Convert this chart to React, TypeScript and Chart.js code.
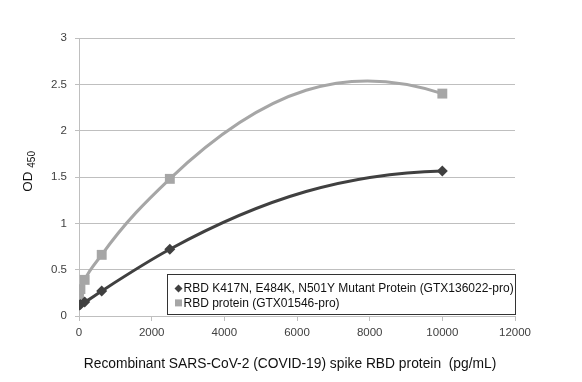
import React, { useEffect, useRef } from 'react';
import { Chart, registerables } from 'chart.js';

Chart.register(...registerables);

// ---- data ----
const concentrations = [0, 39, 156, 625, 2500, 10000];
const mutantOD = [0.115, 0.125, 0.15, 0.27, 0.72, 1.565];
const rbdOD = [0.23, 0.29, 0.39, 0.66, 1.48, 2.4];
const seriesLabels = [
  'RBD K417N, E484K, N501Y Mutant Protein (GTX136022-pro)',
  'RBD protein (GTX01546-pro)',
];
const xTickLabels = ['0', '2000', '4000', '6000', '8000', '10000', '12000'];
const yTickLabels = ['0', '0.5', '1', '1.5', '2', '2.5', '3'];
const xTitle = 'Recombinant SARS-CoV-2 (COVID-19) spike RBD protein  (pg/mL)';
const yTitleMain = 'OD';
const yTitleSub = '450';

const FONT = '"Liberation Sans", Arial, sans-serif';
const HANDLE = 0.35;

// Excel-like smoothing: Hermite spline in x with parabolic (Bessel) tangents
const excelSmooth = {
  id: 'excelSmooth',
  beforeDatasetDraw(chart: any, args: any) {
    const meta = args.meta;
    const line = meta.dataset;
    if (!line) return;
    if (typeof line.updateControlPoints === 'function') {
      line.updateControlPoints(chart.chartArea, meta.iScale ? meta.iScale.axis : 'x');
    }
    const pts = meta.data;
    const n = pts.length;
    if (n < 2) return;
    const h: number[] = [];
    const d: number[] = [];
    for (let i = 0; i < n - 1; i++) {
      h[i] = pts[i + 1].x - pts[i].x;
      d[i] = h[i] !== 0 ? (pts[i + 1].y - pts[i].y) / h[i] : 0;
    }
    const m: number[] = [];
    for (let i = 0; i < n; i++) {
      if (n === 2) {
        m[i] = d[0];
      } else if (i === 0) {
        const s = h[0] + h[1];
        m[i] = s ? ((2 * h[0] + h[1]) * d[0] - h[0] * d[1]) / s : d[0];
      } else if (i === n - 1) {
        const a = h[n - 3];
        const b = h[n - 2];
        const s = a + b;
        m[i] = s ? ((2 * b + a) * d[n - 2] - b * d[n - 3]) / s : d[n - 2];
      } else {
        const s = h[i - 1] + h[i];
        m[i] = s ? (h[i] * d[i - 1] + h[i - 1] * d[i]) / s : 0;
      }
    }
    for (let i = 0; i < n; i++) {
      const p = pts[i];
      if (i > 0) {
        p.cp1x = p.x - h[i - 1] * HANDLE;
        p.cp1y = p.y - m[i] * h[i - 1] * HANDLE;
      } else {
        p.cp1x = p.x;
        p.cp1y = p.y;
      }
      if (i < n - 1) {
        p.cp2x = p.x + h[i] * HANDLE;
        p.cp2y = p.y + m[i] * h[i] * HANDLE;
      } else {
        p.cp2x = p.x;
        p.cp2y = p.y;
      }
    }
    line._pointsUpdated = true;
  },
};

function drawMarker(ctx: CanvasRenderingContext2D, style: string, x: number, y: number, r: number, color: string) {
  ctx.save();
  ctx.fillStyle = color;
  ctx.beginPath();
  if (style === 'rectRot') {
    ctx.moveTo(x, y - r);
    ctx.lineTo(x + r, y);
    ctx.lineTo(x, y + r);
    ctx.lineTo(x - r, y);
    ctx.closePath();
  } else {
    ctx.rect(x - r, y - r, 2 * r, 2 * r);
  }
  ctx.fill();
  ctx.restore();
}

const annotations = {
  id: 'annotations',
  afterDraw(chart: any) {
    const ctx: CanvasRenderingContext2D = chart.ctx;
    const area = chart.chartArea;
    ctx.save();

    // legend box
    const bw = 348;
    const bh = 40;
    const bx = Math.round(area.right - bw) + 0.5;
    const by = Math.round(area.bottom - 2 - bh) + 0.5;
    ctx.fillStyle = '#ffffff';
    ctx.fillRect(bx, by, bw, bh);
    ctx.strokeStyle = '#333333';
    ctx.lineWidth = 1;
    ctx.strokeRect(bx, by, bw, bh);
    ctx.font = `12px ${FONT}`;
    ctx.textBaseline = 'middle';
    ctx.textAlign = 'left';
    const ds = chart.data.datasets;
    for (let i = 0; i < ds.length; i++) {
      const cy = by + 14 + i * 14.4;
      drawMarker(ctx, ds[i].pointStyle, bx + 11, cy, ds[i].pointStyle === 'rectRot' ? 4 : 3.5, ds[i].borderColor);
      ctx.fillStyle = '#111111';
      ctx.fillText(ds[i].label, bx + 16, cy + 0.5);
    }

    // x-axis title
    ctx.fillStyle = '#111111';
    ctx.font = `13.8px ${FONT}`;
    ctx.textAlign = 'center';
    ctx.textBaseline = 'middle';
    ctx.fillText(xTitle, 290, 364);

    // y-axis title with subscript
    ctx.translate(0, 191.7);
    ctx.rotate(-Math.PI / 2);
    ctx.textAlign = 'left';
    ctx.textBaseline = 'alphabetic';
    ctx.font = `13.5px ${FONT}`;
    ctx.fillText(yTitleMain, 0, 31.5);
    const w = ctx.measureText(yTitleMain + ' ').width;
    ctx.font = `10px ${FONT}`;
    ctx.fillText(yTitleSub, w, 35.3);
    ctx.restore();
  },
};

export default function App() {
  const ref = useRef<HTMLCanvasElement | null>(null);

  useEffect(() => {
    document.body.style.margin = '0';
    const canvas = ref.current;
    if (!canvas) return;
    const chart = new Chart(canvas, {
      type: 'line',
      data: {
        datasets: [
          {
            label: seriesLabels[0],
            data: concentrations.map((x, i) => ({ x, y: mutantOD[i] })),
            borderColor: '#404040',
            backgroundColor: '#404040',
            borderWidth: 3,
            pointStyle: 'rectRot',
            pointRadius: 5.5,
            pointBorderWidth: 0,
            pointBackgroundColor: '#404040',
            tension: 0.4,
            fill: false,
          },
          {
            label: seriesLabels[1],
            data: concentrations.map((x, i) => ({ x, y: rbdOD[i] })),
            borderColor: '#a6a6a6',
            backgroundColor: '#a6a6a6',
            borderWidth: 3,
            pointStyle: 'rect',
            pointRadius: 7,
            pointBorderWidth: 0,
            pointBackgroundColor: '#a6a6a6',
            tension: 0.4,
            fill: false,
          },
        ],
      },
      options: {
        responsive: false,
        animation: false,
        devicePixelRatio: 1,
        layout: { padding: { top: 38, right: 67, left: 0, bottom: 0 } },
        plugins: {
          legend: { display: false },
          tooltip: { enabled: false },
        },
        scales: {
          x: {
            type: 'linear',
            min: 0,
            max: 12000,
            afterFit: (s: any) => {
              s.height = 66;
            },
            ticks: {
              stepSize: 2000,
              padding: 5,
              color: '#404040',
              font: { family: FONT, size: 11.5 },
              callback: (_v: any, i: number) => xTickLabels[i],
              maxRotation: 0,
            },
            grid: { drawOnChartArea: false, drawTicks: true, tickLength: 5, color: '#bfbfbf' },
            border: { color: '#bfbfbf' },
          },
          y: {
            min: 0,
            max: 3,
            afterFit: (s: any) => {
              s.width = 79;
            },
            ticks: {
              stepSize: 0.5,
              padding: 8,
              color: '#404040',
              font: { family: FONT, size: 11.5 },
              callback: (_v: any, i: number) => yTickLabels[i],
            },
            grid: { color: '#bfbfbf', drawTicks: true, tickLength: 4 },
            border: { color: '#bfbfbf' },
          },
        },
      },
      plugins: [excelSmooth, annotations],
    } as any);
    return () => chart.destroy();
  }, []);

  return (
    <div style={{ position: 'absolute', left: 0, top: 0, width: 582, height: 382, background: '#fff' }}>
      <canvas ref={ref} width={582} height={382} style={{ width: 582, height: 382 }} />
    </div>
  );
}
